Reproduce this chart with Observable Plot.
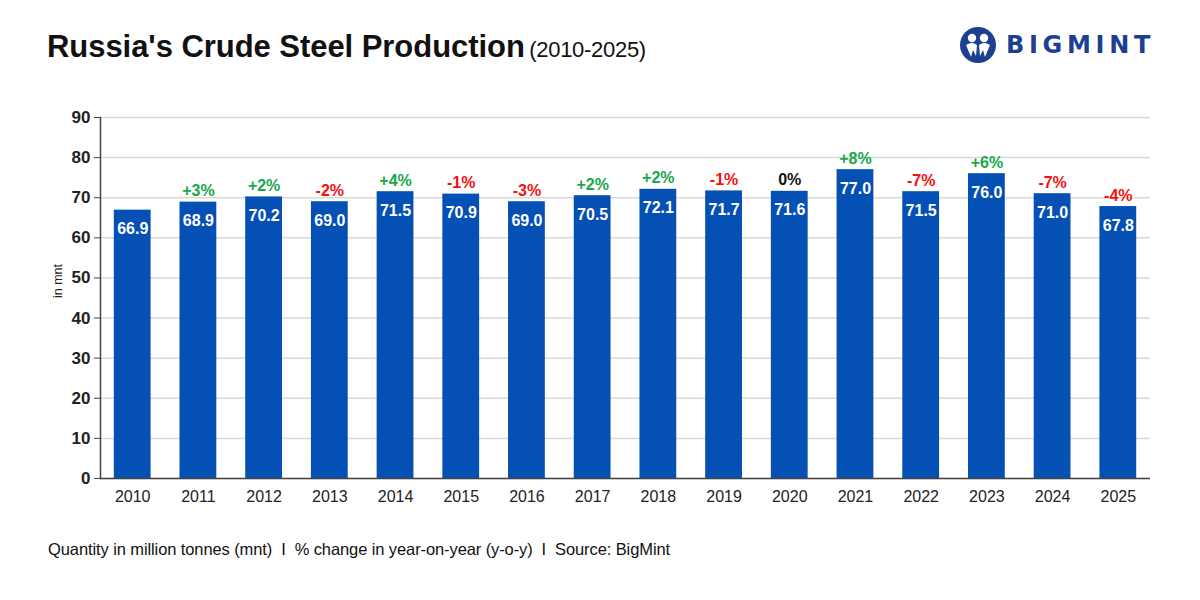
<!DOCTYPE html>
<html>
<head>
<meta charset="utf-8">
<script src="https://cdn.jsdelivr.net/npm/d3@7"></script>
<script src="https://cdn.jsdelivr.net/npm/@observablehq/plot@0.6"></script>
<style>
  html, body { margin: 0; padding: 0; background: #fff; }
  body { width: 1200px; height: 600px; position: relative; overflow: hidden; font-family: "Liberation Sans", Arial, sans-serif; }
  #title { position: absolute; left: 47px; top: 29px; white-space: nowrap; color: #111; }
  #title .main { font-size: 31px; font-weight: 700; letter-spacing: -0.05px; }
  #title .sub { font-size: 22px; font-weight: 400; letter-spacing: -0.3px; }
  #logo { position: absolute; left: 959px; top: 26px; display: flex; align-items: center; }
  #logo .word { font-family: "DejaVu Sans", sans-serif; font-weight: 700; font-size: 24px; letter-spacing: 4.7px; color: #1d3f92; margin-left: 9px; }
  #chart { position: absolute; left: 0; top: 100px; }
  #footer { position: absolute; left: 48px; top: 540px; font-size: 16.5px; color: #111; white-space: nowrap; letter-spacing: -0.1px; }
</style>
</head>
<body>
<div id="title"><span class="main">Russia's Crude Steel Production</span> <span class="sub">(2010-2025)</span></div>
<div id="logo">
  <svg width="38" height="38" viewBox="0 0 38 38">
    <circle cx="19" cy="19" r="18" fill="#1d3f92"/>
    <circle cx="13" cy="12" r="4.2" fill="#fff"/>
    <circle cx="25" cy="12" r="4.2" fill="#fff"/>
    <path d="M7 19 Q13 15 18 19 L17 30 L14 24 L12 31 Z" fill="#fff"/>
    <path d="M31 19 Q25 15 20 19 L21 30 L24 24 L26 31 Z" fill="#fff"/>
  </svg>
  <span class="word">BIGMINT</span>
</div>
<div id="chart"></div>
<div id="footer">Quantity in million tonnes (mnt)&nbsp; I&nbsp; % change in year-on-year (y-o-y)&nbsp; I&nbsp; Source: BigMint</div>
<script>
// Annual crude steel output, million tonnes
const years = ["2010","2011","2012","2013","2014","2015","2016","2017","2018","2019","2020","2021","2022","2023","2024","2025"];
const production = [66.9, 68.9, 70.2, 69.0, 71.5, 70.9, 69.0, 70.5, 72.1, 71.7, 71.6, 77.0, 71.5, 76.0, 71.0, 67.8];
// Year-on-year change labels as published (null for the first year)
const yoyLabels = [null, "+3%", "+2%", "-2%", "+4%", "-1%", "-3%", "+2%", "+2%", "-1%", "0%", "+8%", "-7%", "+6%", "-7%", "-4%"];
const yTicks = [0, 10, 20, 30, 40, 50, 60, 70, 80, 90];

const rows = years.map((year, i) => ({ year, value: production[i], yoy: yoyLabels[i] }));
const yoyRows = rows.filter(d => d.yoy !== null);

const yoyColor = s => s.startsWith("+") ? "#17a84b" : s.startsWith("-") ? "#f50f0f" : "#111111";

const chart = Plot.plot({
  width: 1200,
  height: 440,
  marginTop: 17,
  marginBottom: 62,
  marginLeft: 100,
  marginRight: 50,
  style: { fontFamily: "Liberation Sans, Arial, sans-serif", background: "transparent", overflow: "visible" },
  x: { domain: years, paddingInner: 0.44, paddingOuter: 0.21, round: false, label: null },
  y: { domain: [0, 90], ticks: yTicks, label: null },
  marks: [
    Plot.gridY(yTicks, { stroke: "#d9d9d9", strokeOpacity: 1, strokeWidth: 1.5 }),
    Plot.barY(rows, { x: "year", y: "value", fill: "#0550b4" }),
    Plot.ruleY([0], { stroke: "#444", strokeWidth: 1.5 }),
    Plot.frame({ anchor: "left", stroke: "#444", strokeWidth: 1.5 }),
    Plot.axisY(yTicks, { tickSize: 6, tickPadding: 4, fontSize: 17, fontWeight: 700, fill: "#222", stroke: "#444", label: null }),
    Plot.axisX({ tickSize: 0, tickPadding: 12, fontSize: 16, fill: "#222", label: null }),
    Plot.text(rows, { x: "year", y: "value", text: d => d.value.toFixed(1), dy: 19, fill: "#fff", fontSize: 16, fontWeight: 700, lineAnchor: "middle" }),
    Plot.text(yoyRows, { x: "year", y: "value", text: "yoy", dy: -11, fill: d => yoyColor(d.yoy), fontSize: 16, fontWeight: 700, lineAnchor: "middle" }),
    Plot.text(["in mnt"], { frameAnchor: "left", dx: -43, rotate: -90, fontSize: 12.5, fill: "#222" })
  ]
});
document.getElementById("chart").appendChild(chart);
</script>
</body>
</html>
